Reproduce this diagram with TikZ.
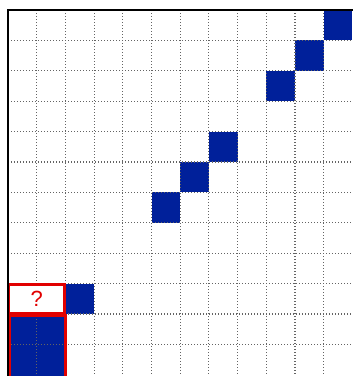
\documentclass[tikz,border=0pt]{standalone}
\usepackage{fontspec}
\setmainfont{Liberation Sans}
\definecolor{cellblue}{RGB}{0,32,154}
\definecolor{gridgray}{RGB}{100,100,100}
\definecolor{markred}{RGB}{225,0,0}
\tikzset{
  cell/.style={fill=cellblue, draw=none},
  gridline/.style={gridgray, line width=1.1pt, dash pattern=on 1pt off 2pt},
  borderline/.style={black, line width=2pt},
  redbox/.style={draw=markred, line width=2.6pt},
}
\begin{document}
\begin{tikzpicture}[x=1pt,y=-1pt]
\useasboundingbox (0,0) rectangle (353,376);
\clip (0,0) rectangle (353,376);
\def\gx#1{8+28.7*#1}
\def\gy#1{10+30.4*#1}
% blue cells (col,row)
\foreach \c/\r in {11/0,10/1,9/2,7/4,6/5,5/6,2/9}{
  \fill[cell] ({\gx{\c}},{\gy{\r}}) rectangle ({\gx{(\c+1)}},{\gy{(\r+1)}});
}
\fill[cell] ({\gx{0}},{\gy{10}}) rectangle ({\gx{2}},{\gy{12.2}});
% grid
\foreach \i in {1,...,11}{
  \draw[gridline] ({\gx{\i}},{\gy{0}}) -- ({\gx{\i}},376);
  \draw[gridline] ({\gx{0}},{\gy{\i}}) -- (353,{\gy{\i}});
}
% question box
\node[redbox, fill=white, minimum width=55pt, minimum height=28.5pt, inner sep=0pt,
      text=markred, font=\fontsize{22}{22}\selectfont] (q)
  at ({(\gx{0}+\gx{2})/2},{(\gy{9}+\gy{10})/2}) {?};
% red border round blue block
\coordinate (b1) at ({\gx{0}+1.5},{\gy{10}+1.5});
\coordinate (b2) at ({\gx{2}},{\gy{12.5}});
\draw[redbox] (b1) rectangle (b2);
% frame
\coordinate (tl) at ({\gx{0}},{\gy{0}});
\coordinate (tr) at (353,{\gy{0}});
\coordinate (bl) at ({\gx{0}},376);
\draw[borderline] (bl) -- (tl) -- (tr);
\end{tikzpicture}
\end{document}
